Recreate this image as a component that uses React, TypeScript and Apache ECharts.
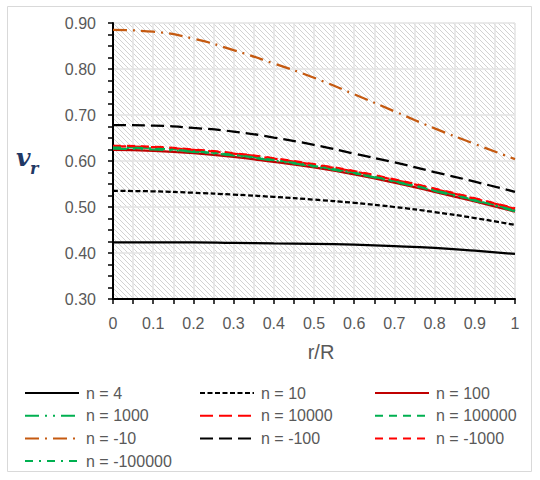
import React, { useEffect, useRef } from 'react';
import * as echarts from 'echarts';

const rValues = [0, 0.1, 0.2, 0.3, 0.4, 0.5, 0.6, 0.7, 0.8, 0.9, 1];
const yTicks = [0.3, 0.4, 0.5, 0.6, 0.7, 0.8, 0.9];

const n4 = [0.423, 0.423, 0.423, 0.422, 0.421, 0.42, 0.418, 0.415, 0.411, 0.405, 0.398];
const n10 = [0.535, 0.534, 0.531, 0.527, 0.522, 0.516, 0.509, 0.5, 0.489, 0.476, 0.461];
const n100 = [0.624, 0.622, 0.617, 0.609, 0.598, 0.586, 0.571, 0.553, 0.533, 0.512, 0.49];
const n1000 = [0.627, 0.625, 0.62, 0.612, 0.601, 0.588, 0.573, 0.555, 0.535, 0.514, 0.491];
const n10000 = [0.632, 0.63, 0.624, 0.616, 0.605, 0.592, 0.577, 0.559, 0.539, 0.518, 0.496];
const n100000 = [0.63, 0.628, 0.622, 0.614, 0.603, 0.59, 0.575, 0.557, 0.537, 0.516, 0.493];
const nm10 = [0.885, 0.881, 0.866, 0.841, 0.812, 0.781, 0.745, 0.708, 0.671, 0.637, 0.604];
const nm100 = [0.678, 0.677, 0.672, 0.664, 0.651, 0.635, 0.616, 0.597, 0.576, 0.555, 0.533];
const nm1000 = [0.633, 0.631, 0.625, 0.617, 0.606, 0.593, 0.578, 0.56, 0.54, 0.519, 0.497];
const nm100000 = [0.629, 0.627, 0.621, 0.613, 0.602, 0.589, 0.574, 0.556, 0.536, 0.515, 0.492];

const seriesDefs = [
  { name: 'n = 4', values: n4, color: '#000000', dash: 'solid' as any },
  { name: 'n = 10', values: n10, color: '#000000', dash: [5, 2.5] },
  { name: 'n = 100', values: n100, color: '#c00000', dash: 'solid' as any },
  { name: 'n = 1000', values: n1000, color: '#00b050', dash: [14, 6, 2, 6, 2, 6] },
  { name: 'n = 10000', values: n10000, color: '#ff0000', dash: [13, 6] },
  { name: 'n = 100000', values: n100000, color: '#00b050', dash: [8, 6] },
  { name: 'n = -10', values: nm10, color: '#c55a11', dash: [14, 6, 2, 6] },
  { name: 'n = -100', values: nm100, color: '#000000', dash: [13, 6] },
  { name: 'n = -1000', values: nm1000, color: '#ff0000', dash: [8, 6] },
  { name: 'n = -100000', values: nm100000, color: '#00b050', dash: [8, 6, 2, 6] },
];

const legendCols = [
  ['n = 4', 'n = 1000', 'n = -10', 'n = -100000'],
  ['n = 10', 'n = 10000', 'n = -100'],
  ['n = 100', 'n = 100000', 'n = -1000'],
];

function makeHatch() {
  const s = 5;
  const c = document.createElement('canvas');
  c.width = s;
  c.height = s;
  const ctx = c.getContext('2d')!;
  ctx.fillStyle = '#ffffff';
  ctx.fillRect(0, 0, s, s);
  ctx.strokeStyle = '#d2d2d2';
  ctx.lineWidth = 1;
  ctx.beginPath();
  ctx.moveTo(-1, -1);
  ctx.lineTo(s + 1, s + 1);
  ctx.moveTo(-1, s - 1);
  ctx.lineTo(1, s + 1);
  ctx.moveTo(s - 1, -1);
  ctx.lineTo(s + 1, 1);
  ctx.stroke();
  return c;
}

export default function App() {
  const ref = useRef<HTMLDivElement>(null);
  useEffect(() => {
    if (!ref.current) return;
    const chart = echarts.init(ref.current, null, { renderer: 'svg' });
    const font = 'Liberation Sans';
    const legendLefts = [24, 199, 374];
    chart.setOption({
      animation: false,
      backgroundColor: '#ffffff',
      textStyle: { fontFamily: font },
      grid: {
        left: 113,
        right: 25,
        top: 23,
        bottom: 181,
        show: true,
        borderWidth: 0,
        backgroundColor: { image: makeHatch(), repeat: 'repeat', imageWidth: 5, imageHeight: 5 } as any,
      },
      xAxis: {
        type: 'value',
        min: 0,
        max: 1,
        interval: 0.1,
        axisLine: { show: true, onZero: false, lineStyle: { color: '#000000', width: 2 } },
        axisTick: { show: true, length: 5, lineStyle: { color: '#000000', width: 1.5 } },
        minorTick: { show: true, splitNumber: 2, length: 5, lineStyle: { color: '#000000', width: 1.5 } },
        splitLine: { show: true, lineStyle: { color: '#e3e3e3', width: 1.5 } },
        minorSplitLine: { show: true, lineStyle: { color: '#e3e3e3', width: 1.5 } },
        axisLabel: { color: '#595959', fontSize: 16, margin: 16, fontFamily: font },
      },
      yAxis: {
        type: 'value',
        min: 0.3,
        max: 0.9,
        interval: 0.1,
        axisLine: { show: true, onZero: false, lineStyle: { color: '#000000', width: 2 } },
        axisTick: { show: true, length: 5, lineStyle: { color: '#000000', width: 1.5 } },
        minorTick: { show: true, splitNumber: 4, length: 5, lineStyle: { color: '#000000', width: 1.5 } },
        splitLine: { show: true, lineStyle: { color: '#e3e3e3', width: 1.5 } },
        axisLabel: {
          color: '#595959',
          fontSize: 16,
          margin: 17,
          fontFamily: font,
          formatter: (v: number) => {
            const t = yTicks.find((k) => Math.abs(k - v) < 1e-9);
            return (t ?? v).toFixed(2);
          },
        },
      },
      legend: legendCols.map((col, i) => ({
        orient: 'vertical',
        left: legendLefts[i],
        top: 385,
        padding: 0,
        itemWidth: 54,
        itemHeight: 14,
        itemGap: 6.7,
        data: col,
        selectedMode: false,
        itemStyle: { color: 'rgba(0,0,0,0)', borderWidth: 0, opacity: 0 },
        textStyle: { color: '#595959', fontSize: 16, fontFamily: font, padding: [0, 0, 0, 2] },
      })),
      graphic: [
        {
          type: 'rect',
          shape: { x: 7.5, y: 6.5, width: 524, height: 465 },
          style: { fill: 'none', stroke: '#d9d9d9', lineWidth: 1 },
          silent: true,
          z: -10,
        },
        {
          type: 'text',
          x: 16,
          y: 170,
          style: {
            text: 'v',
            font: 'italic bold 25px "DejaVu Serif"',
            fill: '#1f3864',
            textAlign: 'left',
            textVerticalAlign: 'bottom',
          },
        },
        {
          type: 'text',
          x: 30,
          y: 176,
          style: {
            text: 'r',
            font: 'italic bold 16px "DejaVu Serif"',
            fill: '#1f3864',
            textAlign: 'left',
            textVerticalAlign: 'bottom',
          },
        },
        {
          type: 'text',
          x: 321,
          y: 352,
          style: {
            text: 'r/R',
            font: '20px "Liberation Sans"',
            fill: '#595959',
            textAlign: 'center',
            textVerticalAlign: 'middle',
          },
        },
      ],
      series: seriesDefs.map((s) => ({
        name: s.name,
        type: 'line',
        smooth: true,
        symbol: 'none',
        data: rValues.map((r, i) => [r, s.values[i]]),
        lineStyle: { color: s.color, width: 2.25, type: s.dash, cap: 'butt' },
        itemStyle: { color: s.color },
      })),
    });
    return () => chart.dispose();
  }, []);
  return <div ref={ref} style={{ position: 'fixed', left: 0, top: 0, width: 540, height: 480 }} />;
}
